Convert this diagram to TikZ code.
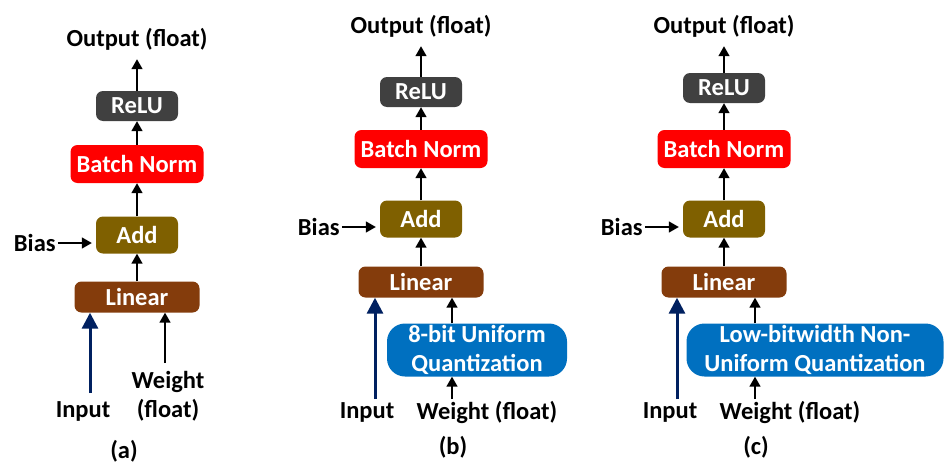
\documentclass[tikz,border=0pt]{standalone}
\usepackage{fontspec}
\setmainfont{Carlito}
\usepackage{xcolor}
\usepackage{tikz}
\usetikzlibrary{arrows.meta, positioning}

\definecolor{reluc}{HTML}{404040}
\definecolor{bnc}{HTML}{FF0000}
\definecolor{addc}{HTML}{7F6000}
\definecolor{linc}{HTML}{843C0C}
\definecolor{quc}{HTML}{0070C0}
\definecolor{inc}{HTML}{002060}

\begin{document}
\begin{tikzpicture}[
    x=1pt, y=-1pt,
    every node/.style={font=\bfseries\fontsize{24.5}{29}\selectfont, inner sep=0pt},
    blk/.style={rounded corners=7pt, text=white, align=center},
    qblk/.style={blk, fill=quc, rounded corners=18pt, minimum height=53pt},
    arr/.style={-{Triangle[length=10pt, width=11pt]}, line width=1.5pt},
    inarr/.style={-{Triangle[length=16pt, width=16pt]}, line width=3pt, draw=inc},
  ]
  \useasboundingbox (0,0) rectangle (945,463);

  % common chain of the three panels
  \foreach \p/\x/\yo/\yr/\yb/\ya/\yl in {a/137/39/106/164/235/297,
                                         b/421/26/92/149/219/282,
                                         c/724/26/88/149/219/282} {
    \node (out\p) at (\x,\yo) {Output (float)};
    \node[blk, fill=reluc, minimum width=82pt, minimum height=30pt] (relu\p) at (\x,\yr) {ReLU};
    \node[blk, fill=bnc, minimum width=133pt, minimum height=38pt] (bn\p) at (\x,\yb) {Batch Norm};
    \node[blk, fill=addc, minimum width=82pt, minimum height=37pt] (add\p) at (\x,\ya) {Add};
    \node[blk, fill=linc, minimum width=125pt, minimum height=31pt] (lin\p) at (\x,\yl) {Linear};
    \node[left=40pt of add\p, yshift=-8pt] (bias\p) {Bias};
    \draw[arr] (lin\p) -- (add\p);
    \draw[arr] (add\p) -- (bn\p);
    \draw[arr] (bn\p) -- (relu\p);
    \draw[arr, shorten >=9pt] (relu\p) -- (out\p);
    \draw[arr, shorten <=2pt, shorten >=4pt] (bias\p) -- (bias\p -| add\p.west);
  }

  % (a) float weights
  \coordinate (ina) at (90,393);
  \coordinate (wa) at (165,363);
  \node (inputa) at (83,411) {Input};
  \node[align=center] (weighta) at (168,396) {Weight\\(float)};
  \draw[inarr] (ina) -- (ina |- lina.south);
  \draw[arr] (wa) -- (wa |- lina.south);
  \node (capa) at (124,451) {(a)};

  % (b) 8-bit uniform
  \node[qblk, minimum width=180pt] (qb) at (477,350) {8-bit Uniform\\Quantization};
  \coordinate (inb) at (375,399);
  \coordinate (wb) at (452,399);
  \node (inputb) at (367,412) {Input};
  \node (weightb) at (487,412) {Weight (float)};
  \draw[inarr] (inb) -- (inb |- linb.south);
  \draw[arr] (wb) -- (wb |- qb.south);
  \draw[arr] (wb |- qb.north) -- (wb |- linb.south);
  \node (capb) at (453,447) {(b)};

  % (c) low-bitwidth non-uniform
  \node[qblk, minimum width=257pt] (qc) at (815,350) {Low-bitwidth Non-\\Uniform Quantization};
  \coordinate (inc) at (677,399);
  \coordinate (wc) at (755,399);
  \node (inputc) at (670,412) {Input};
  \node (weightc) at (790,412) {Weight (float)};
  \draw[inarr] (inc) -- (inc |- linc.south);
  \draw[arr] (wc) -- (wc |- qc.south);
  \draw[arr] (wc |- qc.north) -- (wc |- linc.south);
  \node (capc) at (756,447) {(c)};
\end{tikzpicture}
\end{document}
